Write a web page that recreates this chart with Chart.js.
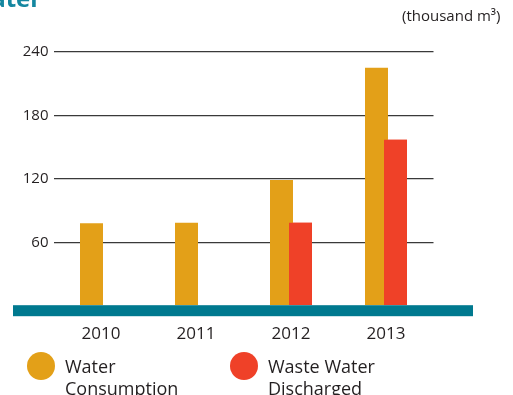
<!DOCTYPE html>
<html>
<head>
<meta charset="utf-8">
<script src="https://cdn.jsdelivr.net/npm/chart.js@4"></script>
<style>
  body { margin: 0; background: #fff; font-family: "Open Sans", sans-serif; color: #231f20; }
  #wrap { position: relative; width: 513px; height: 395px; overflow: hidden; }
  #title { position: absolute; left: -32px; top: -19px; font-size: 24px; font-weight: bold; color: #1587a0; }
  #unit { position: absolute; left: 402px; top: 5px; font-size: 15px; }
  .leg { position: absolute; top: 352px; }
  .dot { position: absolute; width: 28px; height: 28px; border-radius: 50%; }
  .txt { position: absolute; font-size: 18px; line-height: 22px; white-space: nowrap; }
</style>
</head>
<body>
<div id="wrap">
  <canvas id="chart" width="513" height="395"></canvas>
  <div id="title">Water</div>
  <div id="unit">(thousand m³)</div>
  <div id="legend"></div>
</div>
<script>
const years = ["2010", "2011", "2012", "2013"];
const consumption = [78, 78.5, 119, 225];
const discharged = [null, null, 78.5, 157];
const seriesNames = ["Water\nConsumption", "Waste Water\nDischarged"];
const colors = ["#e3a018", "#ef4128"];
const yTicks = [0, 60, 120, 180, 240];

// teal base strip, wider than the plot area
const baseBand = {
  id: "baseBand",
  afterDatasetsDraw(chart) {
    const { ctx, chartArea, scales } = chart;
    // redraw the red bars so they sit over the orange ones
    chart.getDatasetMeta(1).data.forEach(b => b.draw(ctx));
    const y0 = scales.y.getPixelForValue(0);
    ctx.save();
    ctx.fillStyle = "#00798f";
    ctx.fillRect(chartArea.left - 40.5, y0 - 0.5, chartArea.right - chartArea.left + 80, 11);
    ctx.restore();
  }
};

const chart = new Chart(document.getElementById("chart").getContext("2d"), {
  type: "bar",
  data: {
    labels: years,
    datasets: [
      { label: seriesNames[0], data: consumption, backgroundColor: colors[0] },
      { label: seriesNames[1], data: discharged, backgroundColor: colors[1] }
    ]
  },
  options: {
    responsive: false,
    animation: false,
    categoryPercentage: 0.4,
    barPercentage: 1.21,
    layout: { padding: { left: 0, right: 79.5, top: 52, bottom: 0 } },
    plugins: { legend: { display: false }, tooltip: { enabled: false } },
    scales: {
      x: {
        grid: { display: false },
        border: { display: false },
        ticks: { color: "#231f20", font: { family: "Open Sans", size: 17 }, padding: 10 },
        afterFit(scale) { scale.height = 89.3; }
      },
      y: {
        min: yTicks[0],
        max: yTicks[yTicks.length - 1],
        afterBuildTicks(scale) { scale.ticks = yTicks.map(v => ({ value: v })); },
        grid: {
          color: c => (c.tick && c.tick.value === 0 ? "rgba(0,0,0,0)" : "#3a3a3a"),
          lineWidth: 1.3,
          drawTicks: false
        },
        border: { display: false },
        ticks: {
          color: "#231f20",
          font: { family: "Open Sans", size: 15 },
          padding: 5,
          callback: v => (v === 0 ? "" : v)
        },
        afterFit(scale) { scale.width = 53.5; }
      }
    }
  },
  plugins: [baseBand]
});

const legend = document.getElementById("legend");
const legendX = [27, 230];
seriesNames.forEach((name, i) => {
  const item = document.createElement("div");
  item.className = "leg";
  item.style.left = legendX[i] + "px";
  item.innerHTML = `<div class="dot" style="background:${colors[i]}"></div>
    <div class="txt" style="left:38px;top:3px">${name.replace("\n", "<br>")}</div>`;
  legend.appendChild(item);
});
</script>
</body>
</html>
